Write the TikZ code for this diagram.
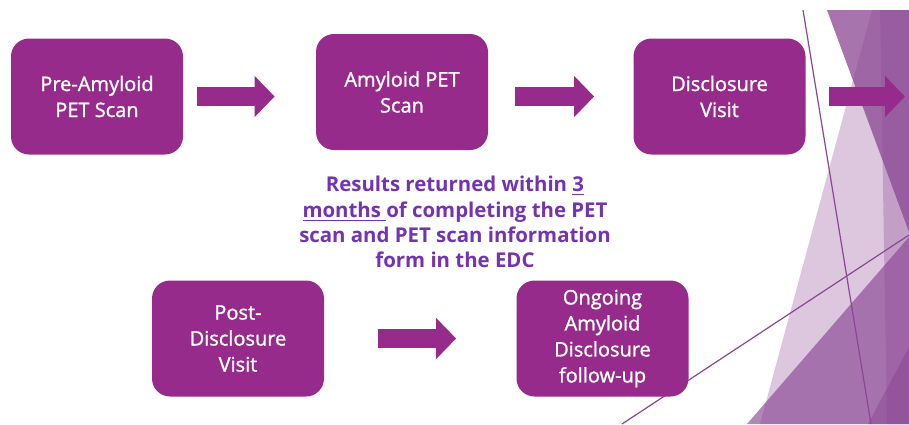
\documentclass[tikz,border=0pt]{standalone}
\usepackage{fontspec}
\setmainfont{Open Sans}
\newfontfamily\boxfont{Open Sans}[FakeBold=1.2]
\usetikzlibrary{arrows.meta}
\definecolor{boxpurple}{HTML}{962B8C}
\definecolor{notepurple}{HTML}{7334AF}
\definecolor{facet}{HTML}{8A4593}

\begin{document}
\begin{tikzpicture}[x=0.5pt,y=-0.5pt,
  stepbox/.style={rectangle, rounded corners=9pt, fill=boxpurple, text=white,
    minimum width=86pt, minimum height=58pt, align=center, inner sep=0pt,
    font=\boxfont\fontsize{10}{13}\selectfont},
  notetext/.style={align=center, text=notepurple, inner sep=0pt,
    font=\bfseries\fontsize{10.2}{12.6}\selectfont},
  bigarrow/.style={draw=boxpurple, line width=9.5pt,
    -{Triangle[length=10pt,width=20pt]}},
  facetline/.style={draw=facet, line width=0.6pt}]
            \useasboundingbox (0,0) rectangle (909,424);
            \begin{scope}
            \clip (0,10) rectangle (909,424);
            \fill[facet, opacity=0.75] (827,10) -- (909,10) -- (909,232) -- cycle;
            \fill[facet, opacity=0.3] (872,10) -- (909,10) -- (909,424) -- (760,424) -- cycle;
            \fill[facet, opacity=0.65] (909,237) -- (909,424) -- (747,424) -- cycle;
            \fill[facet, opacity=0.3] (880,10) -- (909,10) -- (909,424) -- (887,424) -- cycle;
            \fill[facet, opacity=0.5] (909,347) -- (909,424) -- (868,424) -- cycle;
            \draw[facetline] (803,10) -- (871,424);
            \draw[facetline] (909,235) -- (622,424);
            \end{scope}

            \node[stepbox] (prescan) at (97,96.5) {Pre-Amyloid\\PET Scan};
            \node[stepbox] (petscan) at (402,92) {Amyloid PET\\Scan};
            \node[stepbox] (disclosure) at (719.5,96.5) {Disclosure\\Visit};
            \node[stepbox] (postvisit) at (238,338.5) {Post-\\Disclosure\\Visit};
            \node[stepbox] (followup) at (602.5,338.5) {Ongoing\\Amyloid\\Disclosure\\follow-up};
            \coordinate (exit) at (905,96.5);

            \node[notetext] (note) at (455,222) {Results returned within \underline{3}\\\underline{months }of completing the PET\\scan and PET scan information\\form in the EDC};

            \draw[bigarrow, shorten <=7pt, shorten >=20.5pt] (prescan.east) -- (prescan.east -| petscan.west);
            \draw[bigarrow, shorten <=13.5pt, shorten >=19.5pt] (disclosure.west -| petscan.east) -- (disclosure.west);
            \draw[bigarrow, shorten <=11.5pt] (disclosure.east) -- (exit);
            \draw[bigarrow, shorten <=27pt, shorten >=30pt] (postvisit.east) -- (followup.west);
\end{tikzpicture}
\end{document}
